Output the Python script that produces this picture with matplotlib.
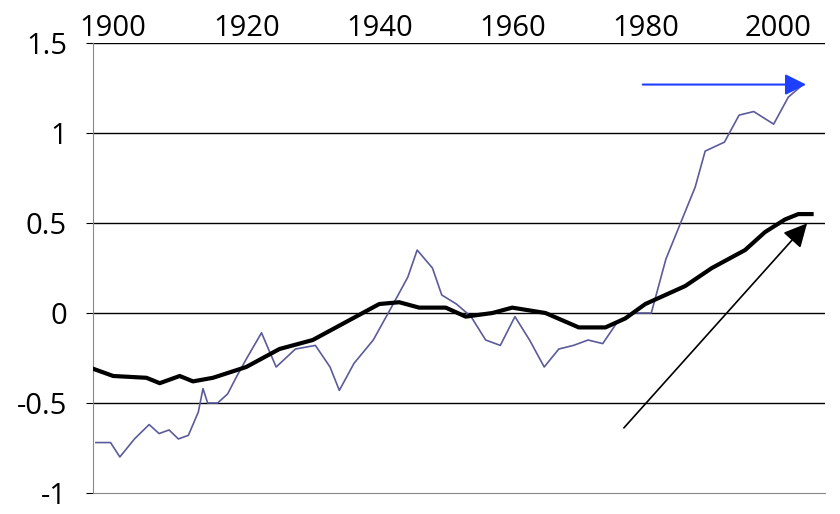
import matplotlib.pyplot as plt
import numpy as np

# thin series (annual, smoothed)
thin_years = [1897.4, 1899.6, 1901, 1903.2, 1905.4, 1906.9, 1908.4, 1909.8, 1911.3, 1912.8,
              1913.5, 1914.2, 1915.7, 1917.2, 1918.6, 1920.1, 1922.3, 1924.5, 1927.4, 1930.4,
              1932.6, 1934, 1936.2, 1939.1, 1942.1, 1944.3, 1945.7, 1948, 1949.4, 1951.6,
              1953.8, 1956, 1958.2, 1960.4, 1962.6, 1964.8, 1967, 1969.2, 1971.4, 1973.6,
              1975.8, 1978, 1980.9, 1983.1, 1985.3, 1987.5, 1989, 1991.9, 1994.1, 1996.3,
              1999.3, 2001.5, 2003.7]
thin_vals = [-0.72, -0.72, -0.8, -0.7, -0.62, -0.67, -0.65, -0.7, -0.68, -0.55,
             -0.42, -0.5, -0.5, -0.45, -0.35, -0.25, -0.11, -0.3, -0.2, -0.18,
             -0.3, -0.43, -0.28, -0.15, 0.05, 0.2, 0.35, 0.25, 0.1, 0.05,
             -0.02, -0.15, -0.18, -0.02, -0.15, -0.3, -0.2, -0.18, -0.15, -0.17,
             -0.05, 0.0, 0.0, 0.3, 0.5, 0.7, 0.9, 0.95, 1.1, 1.12,
             1.05, 1.2, 1.27]

# thick series
thick_years = [1897, 1900, 1905, 1907, 1910, 1912, 1915, 1920, 1925, 1930, 1935, 1940, 1943,
               1946, 1950, 1953, 1957, 1960, 1965, 1970, 1974, 1977, 1980, 1983, 1986, 1990,
               1995, 1998, 2001, 2003, 2005]
thick_vals = [-0.31, -0.35, -0.36, -0.39, -0.35, -0.38, -0.36, -0.3, -0.2, -0.15, -0.05, 0.05, 0.06,
              0.03, 0.03, -0.02, 0.0, 0.03, 0.0, -0.08, -0.08, -0.03, 0.05, 0.1, 0.15, 0.25,
              0.35, 0.45, 0.52, 0.55, 0.55]

plt.rcParams['font.family'] = ['Open Sans', 'DejaVu Sans']
fig = plt.figure(figsize=(8.4, 5.14), dpi=100)
ax = fig.add_axes([0.111, 0.041, 0.871, 0.875])

for v in [-0.5, 0, 0.5, 1, 1.5]:
    ax.axhline(v, color='black', lw=1, zorder=1)

ax.plot(thin_years, thin_vals, color='#5b5b9b', lw=1.2, zorder=2)
ax.plot(thick_years, thick_vals, color='black', lw=3, zorder=3)

ax.annotate('', xy=(2004.6, 1.27), xytext=(1979.2, 1.27),
            arrowprops=dict(arrowstyle='-|>', color='#1f3fff', lw=1.5, mutation_scale=32))
ax.annotate('', xy=(2004.6, 0.51), xytext=(1976.5, -0.65),
            arrowprops=dict(arrowstyle='-|>', color='black', lw=1.2, mutation_scale=36))

ax.set_xlim(1897, 2007)
ax.set_ylim(-1, 1.5)
ax.set_xticks([1900, 1920, 1940, 1960, 1980, 2000])
ax.set_yticks([-1, -0.5, 0, 0.5, 1, 1.5])
ax.set_yticklabels(['-1', '-0.5', '0', '0.5', '1', '1.5'])
ax.xaxis.tick_top()
ax.tick_params(axis='x', length=0, labelsize=21, pad=0)
ax.tick_params(axis='y', length=5, labelsize=21, pad=14)
for s in ['top', 'right']:
    ax.spines[s].set_visible(False)
ax.spines['bottom'].set_color('#888888')
ax.spines['left'].set_color('#888888')

fig.savefig('out.png', dpi=100)
